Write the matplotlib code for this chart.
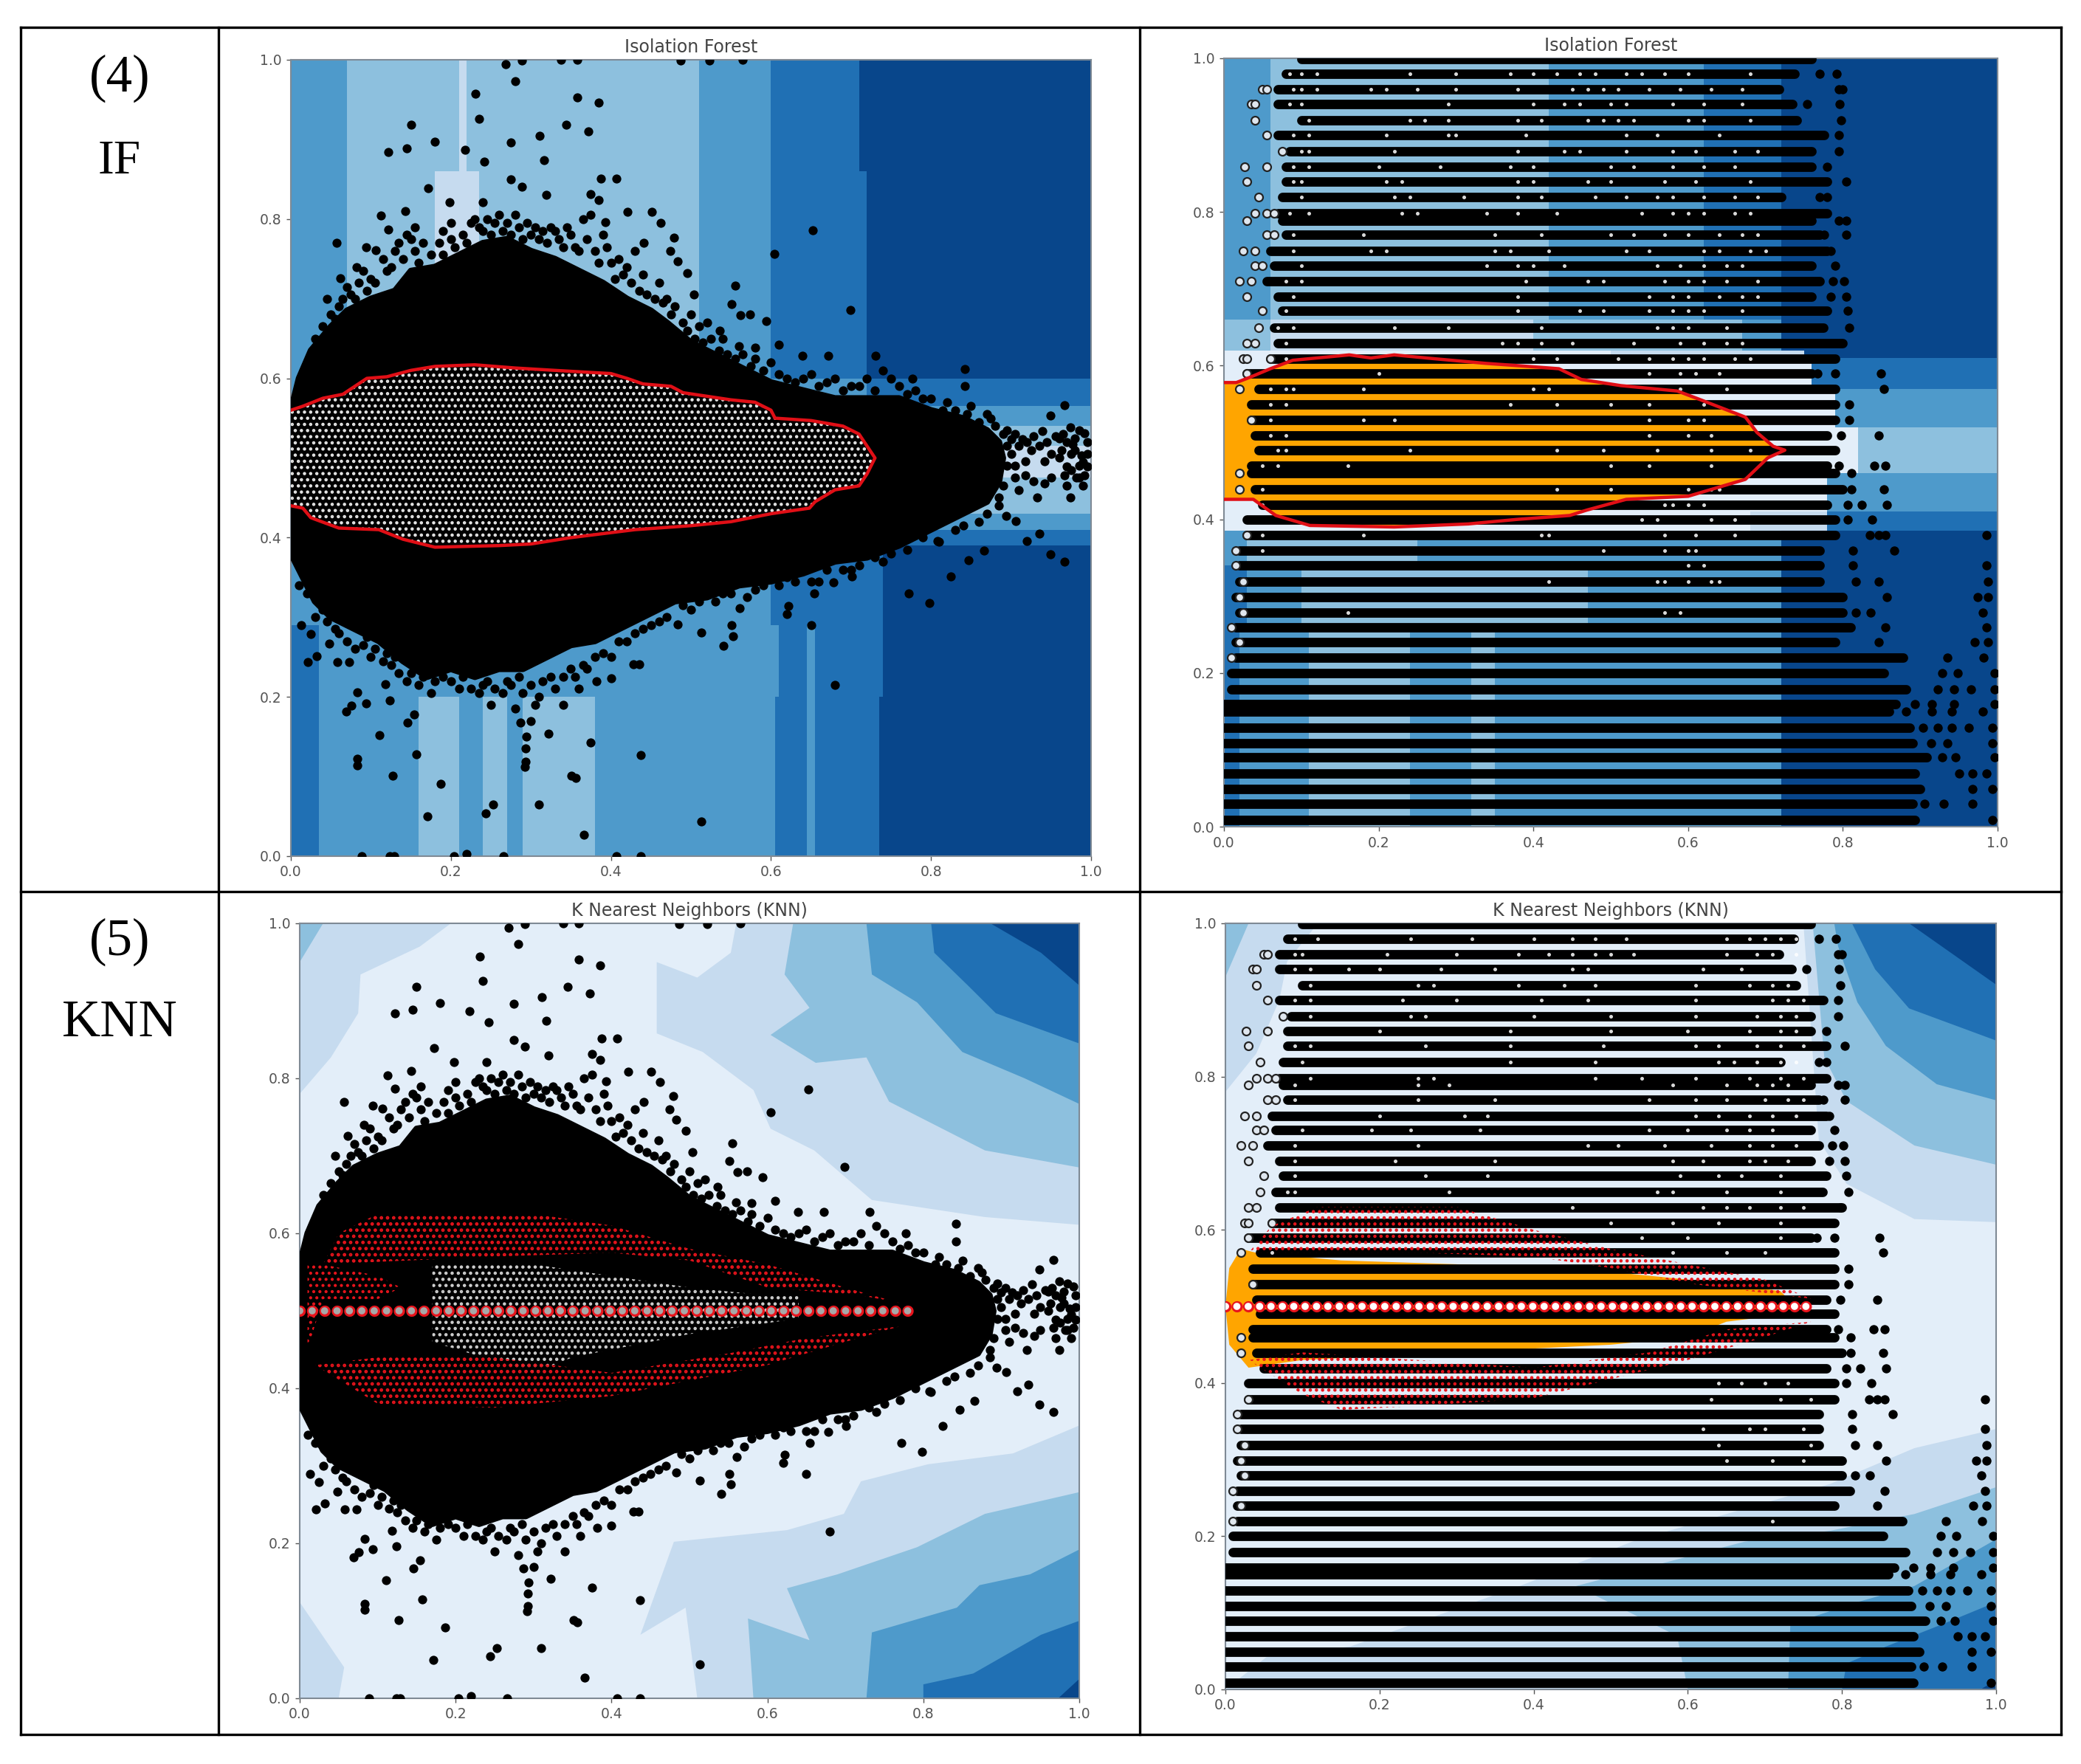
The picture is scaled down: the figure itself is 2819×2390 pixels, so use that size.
import matplotlib
matplotlib.use("Agg")
import matplotlib.pyplot as plt
from matplotlib.patches import Polygon
from matplotlib.lines import Line2D

plt.rcParams["hatch.linewidth"] = 1.3
plt.rcParams["lines.scale_dashes"] = False

W, H = 2819, 2390

# blues used by the filled contours, 0 = darkest
blues = ["#08468b", "#2070b4", "#4e9acb", "#8dc0de", "#c6dbef", "#e3eef9"]

ticks = [0.0, 0.2, 0.4, 0.6, 0.8, 1.0]

# ---- left panels: same scatter in both
blob = [(0, .56), (.01, .60), (.025, .635), (.05, .665), (.07, .685), (.10, .70), (.13, .71), (.15, .735),
        (.18, .74), (.21, .755), (.24, .77), (.27, .775), (.30, .76), (.33, .75), (.36, .735), (.39, .72),
        (.42, .70), (.45, .685), (.47, .67), (.50, .645), (.53, .63), (.56, .615), (.60, .595), (.64, .585),
        (.68, .575), (.72, .575), (.76, .575), (.80, .56), (.84, .55), (.87, .535), (.885, .52), (.89, .50),
        (.885, .47), (.87, .445), (.84, .43), (.80, .41), (.76, .39), (.72, .375), (.68, .37), (.64, .355),
        (.60, .345), (.56, .34), (.52, .325), (.48, .32), (.44, .30), (.41, .285), (.38, .27), (.35, .265),
        (.32, .25), (.29, .235), (.26, .235), (.23, .225), (.20, .235), (.17, .225), (.14, .245), (.11, .27),
        (.08, .285), (.05, .30), (.03, .32), (.015, .35), (0, .38)]

fringe = [(.13, .76), (.15, .775), (.155, .79), (.145, .78), (.19, .785), (.20, .795), (.23, .80), (.235, .79),
          (.26, .805), (.28, .805), (.30, .78), (.33, .785), (.345, .79), (.365, .80), (.375, .805), (.39, .78),
          (.395, .765), (.43, .76), (.355, .765), (.40, .745), (.42, .74), (.44, .73), (.46, .72), (.47, .70),
          (.48, .69), (.50, .68), (.51, .665), (.52, .67), (.54, .65), (.56, .64), (.58, .625), (.60, .62),
          (.64, .60), (.68, .60), (.70, .59), (.72, .60), (.75, .60), (.78, .585), (.82, .57), (.85, .565),
          (.87, .555), (.88, .54), (.10, .725), (.12, .735), (.06, .69), (.075, .705), (.05, .68),
          (.02, .33), (.04, .31), (.06, .28), (.09, .265), (.10, .25), (.12, .255), (.135, .23), (.16, .215),
          (.18, .22), (.21, .21), (.24, .215), (.27, .22), (.29, .205), (.31, .20), (.33, .21), (.36, .21),
          (.38, .25), (.41, .27), (.44, .285), (.47, .30), (.50, .31), (.54, .33), (.58, .335), (.62, .35),
          (.66, .345), (.70, .36), (.74, .37), (.77, .385), (.81, .395), (.84, .415), (.87, .43), (.25, .19),
          (.28, .185), (.34, .19), (.30, .17)]

fringe_top = [(.105, .72), (.115, .75), (.125, .74), (.135, .77), (.14, .75), (.155, .76), (.16, .745), (.165, .77), (.175, .755),
              (.185, .77), (.19, .755), (.20, .775), (.205, .765), (.215, .78), (.22, .77), (.225, .795), (.24, .785), (.245, .80),
              (.25, .78), (.255, .795), (.265, .785), (.27, .795), (.275, .78), (.285, .79), (.29, .775), (.295, .795), (.305, .79),
              (.31, .775), (.315, .785), (.32, .77), (.325, .79), (.335, .775), (.34, .765), (.35, .78), (.36, .76), (.37, .775),
              (.38, .76), (.385, .745), (.41, .75), (.415, .73), (.405, .725), (.425, .72), (.435, .71), (.445, .705), (.455, .70),
              (.465, .695), (.475, .68), (.49, .67), (.495, .66), (.505, .65), (.515, .645), (.525, .65), (.535, .635), (.545, .63),
              (.555, .625), (.565, .63), (.575, .615), (.59, .61), (.61, .605), (.62, .60), (.63, .595), (.65, .605), (.66, .59),
              (.67, .595), (.69, .585), (.71, .59), (.73, .585), (.74, .61), (.76, .59), (.77, .58), (.79, .575), (.80, .575),
              (.815, .56), (.83, .56), (.845, .555), (.86, .545), (.875, .55), (.89, .53), (.895, .515), (.90, .505), (.895, .49),
              (.905, .49), (.89, .465), (.885, .45), (.03, .65), (.04, .665), (.055, .675), (.065, .70), (.07, .715), (.085, .72),
              (.09, .735), (.095, .71), (.08, .70)]

fringe_low = [(.01, .34), (.025, .33), (.03, .30), (.045, .295), (.055, .285), (.07, .27), (.08, .26), (.095, .275), (.105, .26),
              (.115, .245), (.125, .24), (.13, .25), (.145, .22), (.15, .23), (.165, .225), (.175, .205), (.19, .225), (.20, .22),
              (.215, .225), (.225, .21), (.235, .205), (.245, .22), (.255, .21), (.265, .205), (.275, .215), (.285, .225), (.30, .215),
              (.305, .19), (.315, .22), (.325, .225), (.34, .225), (.35, .235), (.355, .225), (.365, .24), (.37, .235), (.39, .255),
              (.40, .25), (.42, .27), (.43, .28), (.45, .29), (.46, .295), (.49, .315), (.51, .32), (.53, .32), (.55, .33), (.57, .325),
              (.59, .34), (.61, .34), (.63, .345), (.65, .345), (.67, .36), (.69, .36), (.71, .365), (.73, .375), (.75, .38), (.79, .40),
              (.83, .41), (.86, .42)]

tail = [(.895, .535), (.905, .53), (.91, .515), (.92, .52), (.925, .51), (.935, .515), (.945, .52), (.95, .505), (.96, .525), (.965, .53),
        (.97, .52), (.98, .525), (.985, .535), (.995, .52), (.975, .505), (.985, .49), (.995, .505), (.98, .51), (.99, .495), (.96, .50),
        (.975, .485), (.985, .475), (.97, .465), (.99, .465), (.905, .475), (.91, .46), (.95, .475)]

outliers = [(.268, .994), (.280, .973), (.289, .999), (.338, 1.0), (.358, 1.0), (.487, .999), (.523, .999), (.565, 1.0),
            (.231, .957), (.358, .953), (.385, .946), (.150, .918), (.235, .926), (.344, .918), (.372, .910), (.311, .905),
            (.180, .897), (.275, .896), (.122, .884), (.145, .889), (.218, .887), (.316, .874), (.242, .872), (.275, .850),
            (.387, .851), (.407, .851), (.289, .841), (.172, .839), (.319, .830), (.198, .821), (.375, .831), (.385, .824),
            (.240, .821), (.113, .804), (.143, .810), (.421, .809), (.451, .809), (.462, .795), (.122, .787), (.652, .786),
            (.393, .796), (.479, .777), (.057, .770), (.441, .770), (.094, .765), (.106, .761), (.604, .756), (.474, .760),
            (.483, .747), (.082, .740), (.495, .732), (.062, .726), (.555, .716), (.504, .705), (.045, .700), (.551, .693),
            (.699, .686), (.562, .679), (.574, .680), (.594, .672), (.536, .660), (.610, .642), (.580, .639), (.639, .628),
            (.731, .628), (.672, .628), (.842, .612), (.842, .590), (.777, .600), (.967, .566), (.949, .553),
            (.900, .524), (.914, .524), (.928, .527), (.939, .534), (.956, .527), (.974, .538), (.992, .531),
            (.918, .496), (.942, .496), (.963, .510), (.977, .517), (.988, .503), (.995, .489), (.970, .489), (.982, .475),
            (.992, .478), (.967, .478), (.918, .478), (.928, .471), (.942, .468), (.933, .450), (.974, .450), (.885, .440),
            (.894, .427), (.906, .421), (.935, .405), (.920, .396), (.866, .384), (.949, .379), (.967, .370), (.847, .372),
            (.825, .351), (.808, .396), (.772, .330), (.798, .318), (.701, .351), (.678, .344), (.654, .330), (.650, .290),
            (.622, .314), (.620, .304), (.561, .311), (.551, .290), (.553, .276), (.541, .264), (.513, .281), (.483, .291),
            (.680, .215), (.435, .241), (.428, .241), (.400, .223), (.382, .220), (.375, .143), (.437, .127), (.513, .044),
            (.366, .027), (.310, .065), (.253, .065), (.244, .054), (.171, .050), (.187, .091), (.127, .101), (.157, .128),
            (.111, .152), (.083, .122), (.083, .114), (.293, .135), (.293, .119), (.292, .112), (.351, .101), (.356, .098),
            (.322, .154), (.294, .150), (.287, .168), (.069, .182), (.076, .189), (.083, .206), (.094, .192), (.124, .196),
            (.118, .216), (.154, .178), (.146, .168), (.089, 0), (.124, 0), (.129, 0), (.204, 0), (.220, .003), (.266, 0),
            (.407, 0), (.437, 0), (.013, .290), (.025, .279), (.021, .244), (.032, .251), (.048, .267), (.058, .244), (.073, .244)]

# decision contours
if_left_contour = [(0, .56), (.015, .565), (.04, .575), (.065, .58), (.08, .59), (.095, .60), (.12, .602), (.15, .61),
                   (.18, .615), (.23, .617), (.28, .613), (.33, .61), (.40, .606), (.42, .60), (.44, .593), (.475, .59),
                   (.49, .582), (.55, .573), (.58, .57), (.60, .56), (.605, .55), (.65, .547), (.69, .54), (.71, .53),
                   (.72, .515), (.73, .50), (.72, .48), (.71, .465), (.68, .46), (.655, .445), (.648, .437), (.60, .43),
                   (.55, .42), (.50, .415), (.43, .41), (.35, .40), (.30, .392), (.26, .39), (.18, .388), (.14, .398),
                   (.11, .41), (.06, .412), (.025, .425), (.015, .437), (0, .44)]

if_right_contour = [(0, .578), (.016, .578), (.034, .585), (.06, .596), (.089, .607), (.162, .614), (.19, .61), (.22, .614),
                    (.272, .609), (.338, .603), (.38, .60), (.433, .596), (.462, .582), (.513, .574), (.586, .567),
                    (.615, .556), (.674, .533), (.689, .513), (.71, .495), (.725, .49), (.703, .48), (.674, .452),
                    (.60, .43), (.52, .426), (.469, .412), (.447, .405), (.38, .40), (.316, .394), (.22, .39), (.111, .392),
                    (.067, .405), (.038, .426), (0, .426)]

# IF background bands: y0, y1, x edges, colour index per column
if_left_bands = [
    (.86, 1.0, [0, .07, .19, .21, .22, .5, .51, .6, .71, 1], [2, 3, 3, 4, 3, 3, 2, 1, 0]),
    (.72, .86, [0, .07, .18, .235, .51, .6, .72, 1], [2, 3, 4, 3, 2, 1, 0]),
    (.60, .72, [0, .07, .51, .6, .72, 1], [2, 3, 2, 1, 0]),
    (.565, .60, [0, .72, 1], [2, 1]),
    (.54, .565, [0, .75, 1], [3, 2]),
    (.515, .54, [0, .85, 1], [3, 3]),
    (.475, .515, [0, .87, 1], [4, 4]),
    (.43, .475, [0, .87, 1], [3, 3]),
    (.41, .43, [0, .72, 1], [3, 2]),
    (.39, .41, [0, .72, 1], [3, 1]),
    (.29, .39, [0, .6, .74, 1], [2, 1, 0]),
    (.20, .29, [0, .035, .6, .61, .645, .655, .74, 1], [1, 2, 2, 1, 2, 1, 0]),
    (0, .20, [0, .035, .16, .21, .24, .27, .29, .38, .595, .605, .645, .655, .735, 1],
     [1, 2, 3, 2, 3, 2, 3, 2, 2, 1, 2, 1, 0]),
]

if_right_bands = [
    (.66, 1.0, [0, .06, .35, .42, .62, .72, 1], [2, 3, 3, 2, 1, 0]),
    (.62, .66, [0, .06, .40, .67, .72, 1], [3, 4, 3, 2, 0]),
    (.61, .62, [0, .06, .50, .75, 1], [5, 5, 4, 0]),
    (.57, .61, [0, .50, .76, 1], [5, 5, 1]),
    (.52, .57, [0, .79, 1], [5, 2]),
    (.46, .52, [0, .82, 1], [5, 3]),
    (.41, .46, [0, .78, 1], [5, 2]),
    (.385, .41, [0, .03, .68, .78, 1], [5, 5, 4, 1]),
    (.34, .385, [0, .03, .25, .72, 1], [2, 3, 2, 0]),
    (.26, .34, [0, .03, .10, .47, .72, 1], [1, 2, 3, 2, 0]),
    (0, .26, [0, .02, .11, .24, .32, .35, .55, .72, 1], [1, 2, 3, 2, 3, 2, 2, 0]),
]

# KNN background regions: darker regions stacked on the pale base
knn_left_regions = [
    (4, [(0, 1), (0, .78), (.04, .827), (.075, .884), (.078, .934), (.154, .97), (.194, 1)]),
    (3, [(0, 1), (0, .95), (.03, 1)]),
    (4, [(0, .124), (.057, .04), (.05, 0), (0, 0)]),
    (4, [(.56, 1), (.553, .962), (.51, .93), (.458, .95), (.458, .858), (.517, .834), (.582, .785), (.604, .735),
         (.66, .707), (.734, .643), (.879, .621), (1, .611), (1, 1)]),
    (3, [(.633, 1), (.622, .934), (.654, .891), (.604, .856), (.662, .82), (.727, .827), (.756, .77), (.879, .707),
         (1, .685), (1, 1)]),
    (2, [(.727, 1), (.734, .934), (.792, .898), (.85, .834), (.93, .80), (1, .767), (1, 1)]),
    (1, [(.81, 1), (.814, .962), (.857, .92), (.893, .884), (1, .845), (1, 1)]),
    (0, [(.886, 1), (.951, .962), (1, .92), (1, 1)]),
    (4, [(1, .352), (.915, .316), (.806, .302), (.72, .28), (.698, .238), (.625, .217), (.48, .202), (.437, .082),
         (.495, .117), (.51, 0), (1, 0)]),
    (3, [(1, .266), (.879, .238), (.792, .195), (.69, .16), (.625, .142), (.654, .075), (.575, .103), (.582, 0), (1, 0)]),
    (2, [(1, .192), (.937, .16), (.872, .146), (.843, .117), (.734, .085), (.727, 0), (1, 0)]),
    (1, [(1, .10), (.951, .082), (.864, .032), (.8, .018), (.8, 0), (1, 0)]),
    (0, [(1, .025), (.973, 0), (1, 0)]),
]

knn_right_regions = [
    (4, [(0, 1), (0, .78), (.04, .83), (.07, .90), (.08, .95), (.12, 1)]),
    (3, [(0, 1), (0, .93), (.03, 1)]),
    (4, [(.75, 1), (.77, .717), (.806, .66), (.894, .614), (1, .61), (1, 1)]),
    (3, [(.762, 1), (.777, .825), (.806, .768), (.894, .71), (1, .685), (1, 1)]),
    (2, [(.79, 1), (.795, .97), (.82, .897), (.857, .84), (.923, .79), (1, .769), (1, 1)]),
    (1, [(.813, 1), (.843, .94), (.887, .889), (1, .847), (1, 1)]),
    (0, [(.887, 1), (1, .92), (1, 1)]),
    (4, [(1, .34), (.894, .315), (.784, .268), (.674, .236), (.528, .193), (.382, .135), (.162, .056), (.053, .042),
         (0, 0), (1, 0)]),
    (3, [(1, .264), (.894, .229), (.784, .207), (.674, .193), (.455, .135), (.586, .07), (.6, 0), (1, 0)]),
    (2, [(1, .196), (.894, .135), (.82, .114), (.733, .085), (.73, 0), (1, 0)]),
    (1, [(1, .114), (.93, .085), (.857, .056), (.806, .034), (.8, 0), (1, 0)]),
    (0, [(1, .013), (.98, 0), (1, 0)]),
]

# KNN left: areas of red and white inliers
red_upper = [(.03, .56), (.05, .60), (.10, .625), (.30, .625), (.40, .61), (.50, .58), (.60, .56), (.70, .53), (.77, .51),
             (.72, .52), (.60, .53), (.50, .565), (.40, .575), (.25, .57)]
red_lower = [(.02, .43), (.10, .38), (.25, .375), (.40, .39), (.50, .41), (.60, .43), (.70, .46), (.77, .48), (.65, .465),
             (.55, .445), (.40, .42), (.25, .44), (.10, .44)]
red_left = [(.01, .45), (.01, .56), (.03, .56), (.10, .545), (.13, .53), (.10, .515), (.03, .515)]
white_core = [(.17, .56), (.30, .56), (.40, .545), (.50, .53), (.60, .52), (.64, .52), (.64, .49), (.50, .47), (.35, .44),
              (.30, .42), (.17, .46)]
knn_orange = [(0, .5), (.005, .55), (.02, .575), (.04, .57), (.15, .56), (.3, .555), (.45, .55), (.55, .54), (.65, .53),
              (.72, .52), (.74, .50), (.73, .49), (.65, .48), (.6, .46), (.5, .45), (.3, .44), (.1, .43), (.03, .42), (.005, .45)]
red_upper_d = [(.03, .57), (.06, .605), (.12, .63), (.30, .63), (.40, .60), (.50, .575), (.60, .555), (.70, .535), (.76, .51),
               (.72, .515), (.60, .53), (.50, .55), (.40, .565), (.25, .57)]
red_lower_d = [(.03, .43), (.10, .385), (.15, .365), (.25, .37), (.40, .38), (.50, .405), (.60, .43), (.70, .46), (.76, .48),
               (.65, .47), (.55, .44), (.40, .42), (.25, .43), (.10, .44)]

# ---- right panels: the quantised rows
row_y = [.999, .980, .960, .940, .919, .900, .879, .859, .840, .819, .798, .789, .770, .749, .730, .710, .690, .671, .649,
         .629, .609, .590, .570, .549, .529, .509, .490, .470, .460, .439, .419, .400, .379, .359, .340, .319, .299, .279,
         .259, .240, .220, .200, .179, .159, .150, .129, .109, .090, .069, .049, .030, .009]
row_start = [.10, .08, .07, .07, .10, .07, .085, .08, .08, .075, .07, .075, .08, .06, .065, .055, .07, .075, .065, .07, .06,
             .03, .045, .035, .035, .04, .045, .035, .035, .04, .05, .03, .03, .02, .02, .02, .015, .02, .015, .015, .015,
             .01, .01, 0, 0, 0, 0, 0, 0, 0, 0, 0]
row_end = [.76, .738, .718, .735, .74, .776, .76, .76, .78, .72, .78, .76, .77, .78, .76, .77, .76, .78, .775, .80, .79, .76,
           .79, .79, .79, .78, .79, .78, .79, .80, .78, .79, .79, .77, .77, .77, .80, .80, .81, .79, .878, .853, .882, .868,
           .86, .886, .89, .908, .893, .90, .89, .893]

row_dots = [(.792, .98), (.77, .98), (.795, .96), (.80, .96), (.796, .94), (.754, .94), (.798, .919), (.795, .90), (.795, .879),
            (.78, .859), (.804, .84), (.77, .819), (.78, .819), (.795, .789), (.804, .789), (.776, .77), (.804, .77), (.784, .749),
            (.79, .73), (.787, .71), (.802, .71), (.784, .69), (.804, .69), (.806, .671), (.808, .649), (.798, .629), (.767, .59),
            (.79, .59), (.849, .59), (.853, .57), (.808, .549), (.808, .529), (.798, .509), (.846, .509), (.795, .47), (.841, .47),
            (.855, .47), (.811, .46), (.811, .439), (.853, .439), (.806, .419), (.824, .419), (.857, .419), (.806, .40), (.838, .40),
            (.835, .379), (.846, .379), (.855, .379), (.986, .379), (.866, .359), (.813, .359), (.813, .34), (.986, .34), (.817, .319),
            (.846, .319), (.988, .319), (.857, .299), (.974, .299), (.988, .299), (.817, .279), (.836, .279), (.981, .279), (.855, .259),
            (.986, .259), (.846, .24), (.97, .24), (.988, .24), (.935, .22), (.982, .22), (.928, .20), (.948, .20), (.996, .20),
            (.923, .179), (.944, .179), (.966, .179), (.996, .179), (.893, .159), (.915, .159), (.944, .159), (.996, .159), (.882, .15),
            (.915, .15), (.941, .15), (.981, .15), (.904, .129), (.923, .129), (.941, .129), (.963, .129), (.993, .129), (.914, .109),
            (.935, .109), (.993, .109), (.928, .09), (.946, .09), (.996, .09), (.95, .069), (.968, .069), (.986, .069), (.968, .049),
            (.993, .049), (.906, .03), (.93, .03), (.968, .03), (.993, .009)]

row_rings = [(.05, .96), (.055, .96), (.035, .94), (.04, .94), (.04, .919), (.055, .90), (.075, .879), (.027, .859), (.055, .859),
             (.03, .84), (.045, .819), (.04, .798), (.055, .798), (.065, .798), (.03, .789), (.055, .77), (.065, .77), (.025, .749),
             (.04, .749), (.04, .73), (.05, .73), (.02, .71), (.035, .71), (.03, .69), (.05, .671), (.045, .649), (.03, .629), (.04, .629),
             (.025, .609), (.03, .609), (.06, .609), (.03, .59), (.02, .57), (.035, .529), (.02, .46), (.02, .439), (.03, .379), (.015, .359),
             (.015, .34), (.025, .319), (.02, .299), (.025, .279), (.01, .259), (.02, .24), (.01, .22)]

specks_b = [(.98, [.085, .10, .12, .24, .30, .37, .40, .43, .46, .48, .52, .54, .57, .60, .68]),
            (.96, [.09, .10, .12, .19, .21, .25, .30, .38, .45, .47, .49, .51, .55, .59, .63, .67]),
            (.94, [.085, .10, .29, .40, .44, .46, .50, .52, .58, .62, .67]),
            (.919, [.11, .24, .26, .29, .38, .41, .47, .49, .51, .53, .60, .62, .68]),
            (.90, [.09, .11, .21, .29, .30, .39, .52, .56, .64]),
            (.879, [.10, .11, .22, .38, .44, .46, .52, .58, .61, .66, .69]),
            (.859, [.09, .11, .20, .28, .37, .40, .50, .53, .58, .62, .66]),
            (.84, [.09, .10, .21, .23, .38, .40, .47, .50, .57, .61, .68]),
            (.819, [.10, .22, .24, .31, .38, .41, .48, .52, .56, .58, .62, .66, .69]),
            (.798, [.085, .11, .23, .25, .34, .38, .43, .54, .58, .60, .62, .66, .68]),
            (.77, [.09, .18, .35, .41, .50, .53, .57, .60, .64, .67, .69]),
            (.749, [.09, .19, .21, .35, .37, .42, .52, .55, .62, .64, .68, .70]),
            (.73, [.10, .34, .38, .40, .44, .56, .59, .62, .65, .67]),
            (.71, [.08, .10, .39, .47, .49, .57, .60, .62, .65, .69]),
            (.69, [.09, .38, .55, .58, .60, .64, .67, .69]),
            (.671, [.08, .38, .46, .49, .55, .58, .60, .62, .67]),
            (.649, [.07, .09, .22, .29, .41, .56, .58, .60, .65]),
            (.629, [.08, .36, .38, .41, .45, .53, .59, .62, .65, .67]),
            (.609, [.08, .40, .43, .51, .55, .58, .60, .62, .66, .68]),
            (.59, [.20, .55, .59, .61, .64]),
            (.57, [.06, .08, .09, .18, .40, .42, .59, .65]),
            (.549, [.06, .08, .37, .43, .50, .55, .62]),
            (.529, [.06, .18, .22, .55, .60, .62]),
            (.509, [.06, .08, .55, .60, .63]),
            (.49, [.07, .08, .24, .43, .49, .56, .63, .68]),
            (.47, [.05, .07, .16, .50, .55, .63]),
            (.439, [.05, .43, .50, .60, .63, .64]),
            (.419, [.05, .57, .58, .60, .62]),
            (.40, [.54, .56, .63, .66]),
            (.379, [.05, .18, .41, .42, .57, .61, .66]),
            (.359, [.05, .49, .57, .60, .61]),
            (.34, [.60, .62]),
            (.319, [.42, .56, .57, .60, .63, .64]),
            (.279, [.16, .57, .59])]

specks_d = [(.98, [.09, .12, .24, .32, .40, .45, .48, .52, .65, .68, .70, .72, .74]),
            (.96, [.09, .10, .21, .30, .38, .42, .45, .48, .50, .53, .65, .69, .71, .74]),
            (.94, [.09, .11, .16, .20, .28, .35, .45, .47, .62, .67]),
            (.919, [.11, .25, .27, .38, .44, .48, .61, .68, .71, .73]),
            (.90, [.09, .11, .23, .30, .41, .47, .61, .71, .73, .75]),
            (.879, [.11, .24, .26, .40, .50, .61, .69, .72, .74]),
            (.859, [.20, .37, .50, .60, .68, .72, .74]),
            (.84, [.09, .11, .26, .37, .49, .61, .64, .69, .72, .75]),
            (.819, [.10, .37, .48, .64, .66, .69, .72, .74]),
            (.798, [.11, .25, .27, .48, .54, .61, .68, .72, .75]),
            (.789, [.09, .25, .29, .58, .65, .69, .71, .73]),
            (.77, [.09, .25, .35, .55, .61, .65, .70, .73, .75]),
            (.749, [.20, .31, .34, .61, .64, .68, .71, .74]),
            (.73, [.10, .19, .24, .33, .55, .60, .65, .68, .71]),
            (.71, [.09, .25, .47, .51, .57, .63, .68, .71, .74]),
            (.69, [.09, .22, .35, .58, .62, .68, .70, .73]),
            (.671, [.09, .26, .34, .59, .64, .67, .72]),
            (.649, [.08, .09, .29, .56, .58, .65, .72]),
            (.629, [.45, .62, .65, .68, .72, .75]),
            (.609, [.50, .58, .64, .72]),
            (.59, [.54, .60, .72]),
            (.57, [.06, .58, .65, .70]),
            (.40, [.64, .67, .70, .73]),
            (.379, [.63, .72, .76]),
            (.34, [.62, .68, .70, .75]),
            (.319, [.64, .76]),
            (.299, [.65, .71, .75]),
            (.22, [.71])]

fig = plt.figure(figsize=(W / 100, H / 100), dpi=100, facecolor="white")


def make_axes(x0, x1, y0, y1, title):
    ax = fig.add_axes([x0 / W, 1 - y1 / H, (x1 - x0) / W, (y1 - y0) / H])
    ax.set_xlim(0, 1)
    ax.set_ylim(0, 1)
    ax.set_xticks(ticks)
    ax.set_yticks(ticks)
    ax.tick_params(labelsize=13.5, length=4, width=1, colors="#555555", pad=5)
    for s in ax.spines.values():
        s.set_color("#7f8a95")
        s.set_linewidth(1.5)
    ax.set_title(title, fontsize=17, color="#444444", pad=7)
    return ax


def draw_bands(ax, bands):
    for y0, y1, edges, levels in bands:
        for i in range(len(levels)):
            ax.barh(y0, edges[i + 1] - edges[i], height=y1 - y0, left=edges[i], align="edge",
                    color=blues[levels[i]], linewidth=0, zorder=1)
    ax.set_xlim(0, 1)
    ax.set_ylim(0, 1)


def draw_regions(ax, regions):
    ax.set_facecolor(blues[5])
    for level, pts in regions:
        ax.add_patch(Polygon(pts, closed=True, facecolor=blues[level], edgecolor="none", zorder=1))


def draw_cloud(ax):
    ax.add_patch(Polygon(blob, closed=True, facecolor="black", edgecolor="black", linewidth=6, joinstyle="round", zorder=3))
    pts = fringe + fringe_top + fringe_low + tail + outliers
    ax.scatter([p[0] for p in pts], [p[1] for p in pts], s=78, c="black", linewidths=0, zorder=3, clip_on=True)


def draw_rows(ax, specks):
    for y, a, b in zip(row_y, row_start, row_end):
        ax.plot([a, b], [y, y], color="black", lw=9.2, solid_capstyle="round", zorder=3)
    ax.scatter([p[0] for p in row_dots], [p[1] for p in row_dots], s=80, c="black", linewidths=0, zorder=3)
    ax.scatter([p[0] for p in row_rings], [p[1] for p in row_rings], s=62, c="#dfe6ee", edgecolors="#222222",
               linewidths=1.6, zorder=4)
    for y, xs in specks:
        ax.scatter(xs, [y] * len(xs), s=13, c="white", alpha=.85, linewidths=0, zorder=4)


def hatch_area(ax, pts, color, lw, zorder=5):
    p = Polygon(pts, closed=True, facecolor="none", edgecolor=color, hatch="..", linewidth=0, zorder=zorder)
    p._hatch_linewidth = lw
    ax.add_patch(p)


# panel (4) left
ax1 = make_axes(394, 1478, 81, 1160, "Isolation Forest")
draw_bands(ax1, if_left_bands)
draw_cloud(ax1)
hatch_area(ax1, if_left_contour, "#e6e6e6", 2.0, zorder=4)
ax1.plot([p[0] for p in if_left_contour], [p[1] for p in if_left_contour], color="#e00f16", lw=3.2, zorder=5)

# panel (4) right
ax2 = make_axes(1658, 2706, 79, 1120, "Isolation Forest")
draw_bands(ax2, if_right_bands)
ax2.add_patch(Polygon(if_right_contour, closed=True, facecolor="orange", edgecolor="none", zorder=2))
draw_rows(ax2, specks_b)
ax2.plot([p[0] for p in if_right_contour], [p[1] for p in if_right_contour], color="#e00f16", lw=3.2, zorder=5)

# panel (5) left
ax3 = make_axes(406, 1462, 1251, 2301, "K Nearest Neighbors (KNN)")
draw_regions(ax3, knn_left_regions)
draw_cloud(ax3)
hatch_area(ax3, white_core, "#cfcfcf", 2.0, zorder=4)
hatch_area(ax3, red_upper, "#e8141c", 2.2)
hatch_area(ax3, red_lower, "#e8141c", 2.2)
hatch_area(ax3, red_left, "#e8141c", 1.8)
ax3.plot([0, .78], [.50, .50], color="#e8141c", lw=11, ls=(0, (.1, 12)), dash_capstyle="round", zorder=5)
ax3.plot([0, .78], [.50, .50], color="#a8a8a8", lw=7, ls=(0, (.1, 12)), dash_capstyle="round", zorder=6)

# panel (5) right
ax4 = make_axes(1660, 2704, 1251, 2289, "K Nearest Neighbors (KNN)")
draw_regions(ax4, knn_right_regions)
ax4.add_patch(Polygon(knn_orange, closed=True, facecolor="orange", edgecolor="none", zorder=2))
draw_rows(ax4, specks_d)
hatch_area(ax4, red_upper_d, "#e8141c", 2.0)
hatch_area(ax4, red_lower_d, "#e8141c", 2.0)
ax4.plot([0, .76], [.50, .50], color="#e8141c", lw=11, ls=(0, (.1, 11)), dash_capstyle="round", zorder=5)
ax4.plot([0, .76], [.50, .50], color="white", lw=7, ls=(0, (.1, 11)), dash_capstyle="round", zorder=6)

# table rules, in pixel coordinates of the page
rules = [(28, 2792, 37, 37), (28, 2792, 1208, 1208), (28, 2792, 2350, 2350),
         (28, 28, 37, 2350), (296, 296, 37, 2350), (1544, 1544, 37, 2350), (2792, 2792, 37, 2350)]
for x0, x1, y0, y1 in rules:
    fig.add_artist(Line2D([x0 / W, x1 / W], [1 - y0 / H, 1 - y1 / H], color="black", lw=2.4))

cell_text = [("(4)", 106, 51), ("IF", 219, 47), ("(5)", 1276, 51), ("KNN", 1386, 52)]
for txt, y, size in cell_text:
    fig.text(162 / W, 1 - y / H, txt, family="Liberation Serif", fontsize=size, ha="center", va="center", color="black")

fig.savefig("out.png", dpi=100)
